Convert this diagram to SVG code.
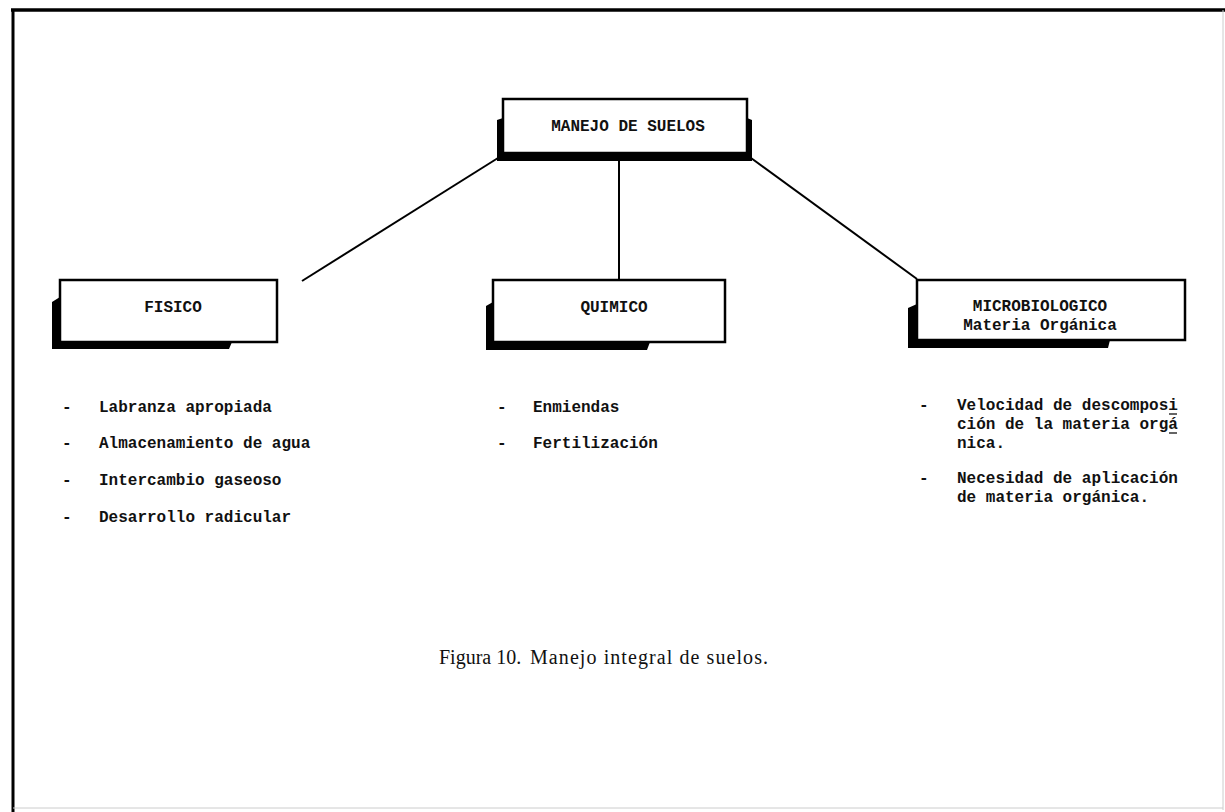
<svg xmlns="http://www.w3.org/2000/svg" width="1225" height="812" viewBox="0 0 1225 812">
<style>
.box{fill:#fff;stroke:#000;stroke-width:2.5}
.sh{fill:#000}
.t{font-family:"Liberation Mono","Courier New",monospace;font-weight:bold;font-size:16px;fill:#111}
.c{text-anchor:middle}
.cap{font-family:"Liberation Serif","Times New Roman",serif;font-size:20px;fill:#111}
.ln{stroke:#000;stroke-width:2;fill:none}
</style>
<rect width="1225" height="812" fill="#fff"/>
<g id="frame">
<line x1="11" y1="10" x2="1225" y2="10" stroke="#000" stroke-width="3.5"/>
<line x1="13" y1="9" x2="13" y2="812" stroke="#000" stroke-width="3"/>
<line x1="1223" y1="10" x2="1223" y2="810" stroke="#ccc" stroke-width="1"/>
<line x1="13" y1="808" x2="1223" y2="808" stroke="#ccc" stroke-width="1"/>
</g>
<g id="connectors">
<line class="ln" x1="498" y1="158" x2="302" y2="281"/>
<line class="ln" x1="619" y1="155" x2="619" y2="281"/>
<line class="ln" x1="751" y1="158" x2="917" y2="279"/>
</g>
<g id="n-manejo">
<path class="sh" d="M497 120 L503 118 L503 153 L747 153 L747 118 L752 120 L752 161 L497 161 Z"/>
<rect class="box" x="503" y="99" width="244" height="54"/>
<text class="t c" x="628" y="131">MANEJO DE SUELOS</text>
</g>
<g id="n-fisico">
<path class="sh" d="M52 302 L60 297 L60 342 L232 342 L229 349 L52 349 Z"/>
<rect class="box" x="60" y="280" width="217" height="62"/>
<text class="t c" x="173" y="312">FISICO</text>
</g>
<g id="n-quimico">
<path class="sh" d="M486 306 L493 302 L493 342 L650 342 L647 350 L486 350 Z"/>
<rect class="box" x="493" y="280" width="232" height="62"/>
<text class="t c" x="614" y="312">QUIMICO</text>
</g>
<g id="n-micro">
<path class="sh" d="M908 308 L917 304 L917 340 L1110 340 L1108 348 L908 348 Z"/>
<rect class="box" x="917" y="280" width="268" height="60"/>
<text class="t c" x="1040" y="311">MICROBIOLOGICO</text>
<text class="t c" x="1040" y="330">Materia Orgánica</text>
</g>
<g id="list-fisico">
<text class="t" x="62" y="412">-</text><text class="t" x="99" y="412">Labranza apropiada</text>
<text class="t" x="62" y="448">-</text><text class="t" x="99" y="448">Almacenamiento de agua</text>
<text class="t" x="62" y="485">-</text><text class="t" x="99" y="485">Intercambio gaseoso</text>
<text class="t" x="62" y="522">-</text><text class="t" x="99" y="522">Desarrollo radicular</text>
</g>
<g id="list-quimico">
<text class="t" x="497" y="412">-</text><text class="t" x="533" y="412">Enmiendas</text>
<text class="t" x="497" y="448">-</text><text class="t" x="533" y="448">Fertilización</text>
</g>
<g id="list-micro">
<text class="t" x="919" y="410">-</text>
<text class="t" x="957" y="410">Velocidad de descomposi</text>
<line x1="1169" y1="414" x2="1177" y2="414" stroke="#111" stroke-width="1.3"/>
<text class="t" x="957" y="429">ción de la materia orgá</text>
<line x1="1169" y1="433" x2="1177" y2="433" stroke="#111" stroke-width="1.3"/>
<text class="t" x="957" y="448">nica.</text>
<text class="t" x="919" y="483">-</text>
<text class="t" x="957" y="483">Necesidad de aplicación</text>
<text class="t" x="957" y="502">de materia orgánica.</text>
</g>
<g id="caption">
<text class="cap" x="439" y="664">Figura 10.</text>
<text class="cap" x="530" y="664" textLength="238">Manejo integral de suelos.</text>
</g>
</svg>
